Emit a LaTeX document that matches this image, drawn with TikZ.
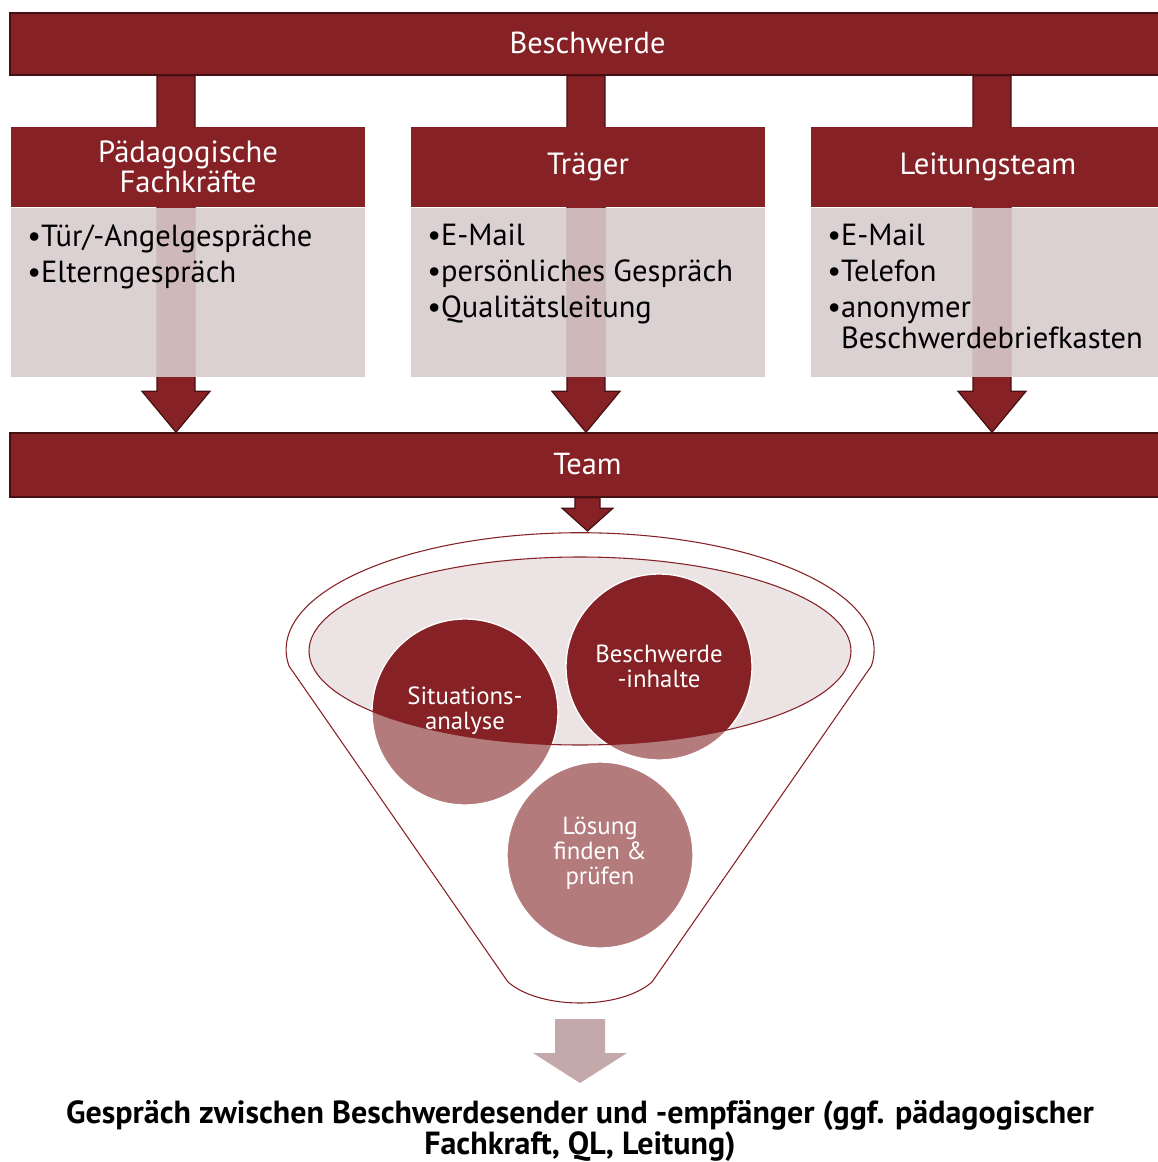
\documentclass[tikz,border=0pt]{standalone}
\usepackage{fontspec}
\setmainfont{PT Sans}
\usetikzlibrary{calc,backgrounds}
\definecolor{dred}{RGB}{134,33,37}
\definecolor{dline}{RGB}{70,16,18}
\definecolor{bodyfill}{RGB}{216,203,204}
\definecolor{ellfill}{RGB}{236,227,228}
\definecolor{lred}{RGB}{180,123,125}
\definecolor{garrow}{RGB}{196,169,171}
\newcommand\blockarrow[6]{%
  \filldraw[#1] let \p1=(#2), \p2=(#3) in
    (\x1-#4,\y1) -- (\x1+#4,\y1) -- (\x1+#4,\y2+#6) -- (\x1+#5,\y2+#6)
    -- (\x2,\y2) -- (\x1-#5,\y2+#6) -- (\x1-#4,\y2+#6) -- cycle;}
\begin{document}
\begin{tikzpicture}[x=0.75pt,y=-0.75pt,
  bar/.style={draw=dline, line width=1.1pt, fill=dred, minimum width=866.25pt,
    inner sep=0pt, text=white, font=\fontsize{22.8}{24}\selectfont},
  headbox/.style={fill=dred, minimum width=265.5pt, minimum height=60pt, inner sep=0pt,
    text=white, align=center, font=\fontsize{23}{22.5}\selectfont},
  bodybox/.style={fill=bodyfill, fill opacity=0.89, minimum width=265.5pt,
    minimum height=126.75pt, inner sep=0pt},
  bodytext/.style={anchor=north west, align=left, inner sep=0pt,
    font=\fontsize{22.9}{27}\selectfont},
  bigarrow/.style={fill=dred, draw=dline, line width=0.9pt, line join=miter},
  softarrow/.style={fill=garrow, draw=none},
  funnelline/.style={draw=dred, line width=0.8pt},
  disc/.style={circle, minimum size=139.5pt, inner sep=0pt, fill=lred},
  disctext/.style={text=white, align=center, font=\fontsize{18.6}{18.75}\selectfont}
]
\useasboundingbox (0,0) rectangle (1157,1162);

% bars and headers
\node[bar, minimum height=46.5pt] (top) at (587.5,44) {\raisebox{1.5pt}{Beschwerde}};
\node[bar, minimum height=48pt] (team) at (587.5,465) {\raisebox{1.5pt}{Team}};
\node[headbox] (h1) at (188,167) {Pädagogische\\Fachkräfte};
\node[headbox] (h2) at (588,167) {Träger};
\node[headbox] (h3) at (988,167) {Leitungsteam};

% arrows behind
\coordinate (a1) at (176,0);
\coordinate (a2) at (586,0);
\coordinate (a3) at (992,0);
\begin{pgfonlayer}{background}
  \blockarrow{bigarrow}{top.south -| a1}{team.north -| a1}{14.25pt}{25.5pt}{30.75pt}
  \blockarrow{bigarrow}{top.south -| a2}{team.north -| a2}{14.25pt}{25.5pt}{30.75pt}
  \blockarrow{bigarrow}{top.south -| a3}{team.north -| a3}{14.25pt}{25.5pt}{30.75pt}
\end{pgfonlayer}

% body boxes
\node[bodybox] (b1) at (188,292.5) {};
\node[bodybox] (b2) at (588,292.5) {};
\node[bodybox] (b3) at (988,292.5) {};
\node[bodytext] (t1) at (27,224) {•Tür/-Angelgespräche\\•Elterngespräch};
\node[bodytext] (t2) at (427,224) {•E-Mail\\•persönliches Gespräch\\•Qualitätsleitung};
\node[bodytext] (t3) at (827,224) {•E-Mail\\•Telefon\\•anonymer\\[-3.75pt]\phantom{•}Beschwerdebriefkasten};

% funnel
\coordinate (ftop) at (587.5,531);
\blockarrow{bigarrow}{team.south}{ftop}{9.4pt}{19pt}{17pt}
\draw[funnelline, fill=white] (289,666) arc[start angle=188, end angle=-8, x radius=220.5pt, y radius=87.75pt]
  -- (652,982) .. controls (620,1010) and (540,1010) .. (508,982) -- cycle;
\coordinate (ec) at (580,651);
\fill[ellfill] (ec) ellipse [x radius=203.25pt, y radius=70.5pt];
\node[disc] (c1) at (465,712) {};
\node[disc] (c2) at (659,667) {};
\node[disc] (c3) at (600,855) {};
\begin{scope}
  \clip (ec) ellipse [x radius=203.25pt, y radius=70.5pt];
  \fill[dred] (c1) circle (69.75pt);
  \fill[dred] (c2) circle (69.75pt);
\end{scope}
\foreach \c in {c1,c2,c3} \draw[white, line width=1pt] (\c) circle (69.75pt);
\draw[funnelline] (ec) ellipse [x radius=203.25pt, y radius=70.5pt];
\node[disctext] at (465,711) {Situations-\\analyse};
\node[disctext] at (659,666) {Beschwerde\\-inhalte};
\node[disctext] at (600,853) {Lösung\\finden \&\\prüfen};

% bottom
\coordinate (ba) at (580,1019);
\node[align=center, inner sep=0pt, font=\bfseries\fontsize{24}{21.75}\selectfont] (res) at (580,1131)
  {Gespräch zwischen Beschwerdesender und -empfänger (ggf. pädagogischer\\Fachkraft, QL, Leitung)};
\coordinate (bt) at (580,1083);
\blockarrow{softarrow}{ba}{bt}{18.75pt}{35.25pt}{22.5pt}
\end{tikzpicture}
\end{document}
